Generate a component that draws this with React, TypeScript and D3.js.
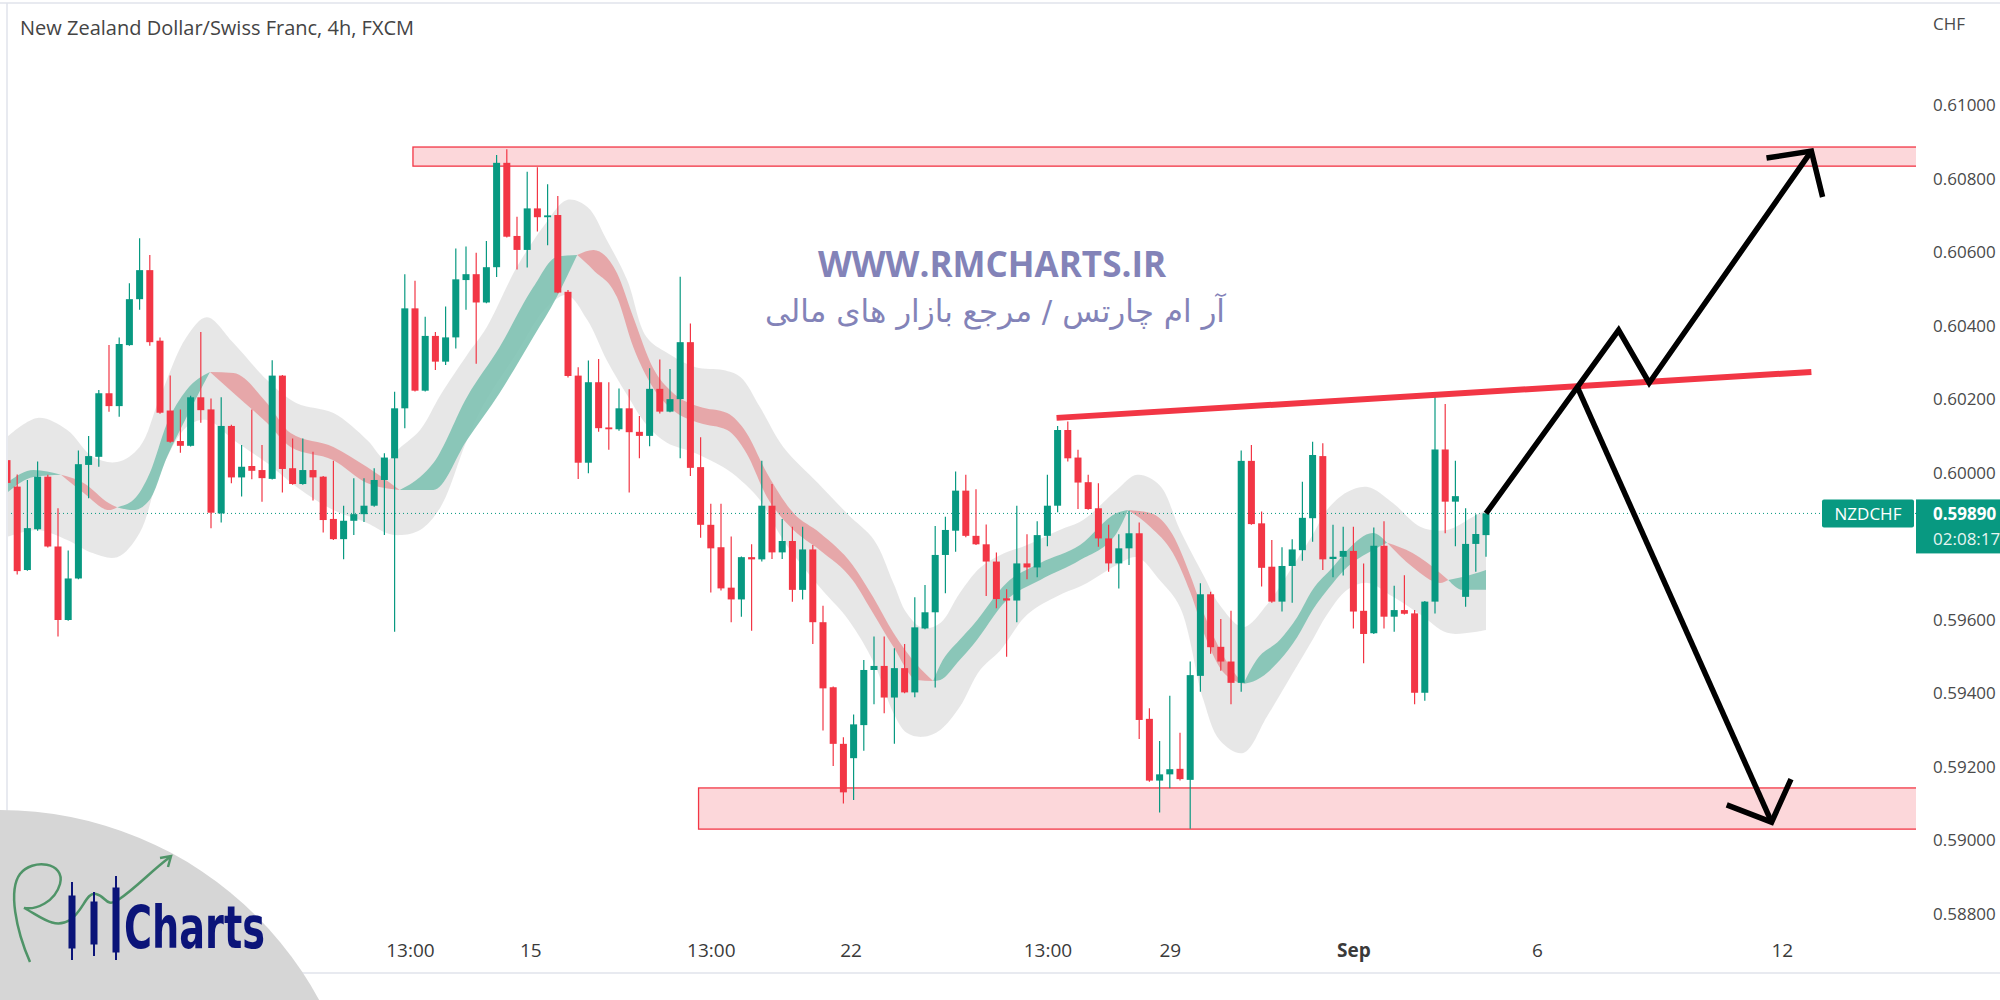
import * as d3 from "d3";
import { useEffect, useRef } from "react";

// 4h candles, NZD/CHF (FXCM)
const candleOpen = [
  0.60035, 0.59963, 0.59736, 0.59847, 0.59990, 0.59800, 0.59600, 0.59713, 0.60022, 0.60044,
  0.60217, 0.60182, 0.60348, 0.60473, 0.60552, 0.60360, 0.60170, 0.60087, 0.60074, 0.60206,
  0.60173, 0.59890, 0.60128, 0.59988, 0.60019, 0.60008, 0.59984, 0.60265, 0.60013, 0.59970,
  0.60008, 0.59990, 0.59875, 0.59820, 0.59870, 0.59888, 0.59911, 0.59981, 0.60040, 0.60176,
  0.60448, 0.60224, 0.60373, 0.60303, 0.60369, 0.60525, 0.60541, 0.60464, 0.60560, 0.60844,
  0.60645, 0.60607, 0.60720, 0.60696, 0.60702, 0.60493, 0.60265, 0.60028, 0.60247, 0.60124,
  0.60119, 0.60176, 0.60112, 0.60101, 0.60229, 0.60167, 0.60201, 0.60356, 0.60016, 0.59859,
  0.59798, 0.59688, 0.59656, 0.59771, 0.59765, 0.59911, 0.59784, 0.59815, 0.59682, 0.59792,
  0.59594, 0.59417, 0.59263, 0.59224, 0.59314, 0.59464, 0.59475, 0.59389, 0.59469, 0.59403,
  0.59577, 0.59621, 0.59777, 0.59843, 0.59952, 0.59829, 0.59806, 0.59759, 0.59659, 0.59653,
  0.59754, 0.59743, 0.59829, 0.59911, 0.60117, 0.60042, 0.59975, 0.59904, 0.59822, 0.59754,
  0.59795, 0.59836, 0.59331, 0.59163, 0.59180, 0.59195, 0.59165, 0.59448, 0.59670, 0.59527,
  0.59487, 0.59429, 0.60033, 0.59863, 0.59745, 0.59650, 0.59747, 0.59790, 0.59877, 0.60046,
  0.59766, 0.59772, 0.59788, 0.59625, 0.59564, 0.59802, 0.59609, 0.59627, 0.59618, 0.59402,
  0.59650, 0.60064, 0.59922, 0.59663, 0.59807, 0.59831
];
const candleHigh = [
  0.60068, 0.59996, 0.59981, 0.60031, 0.59995, 0.59904, 0.59789, 0.60061, 0.60101, 0.60226,
  0.60348, 0.60369, 0.60516, 0.60639, 0.60593, 0.60369, 0.60265, 0.60173, 0.60210, 0.60384,
  0.60203, 0.60206, 0.60131, 0.60076, 0.60173, 0.60076, 0.60307, 0.60267, 0.60094, 0.60094,
  0.60058, 0.59992, 0.60033, 0.59911, 0.59986, 0.59986, 0.60013, 0.60054, 0.60221, 0.60541,
  0.60523, 0.60425, 0.60384, 0.60453, 0.60611, 0.60616, 0.60599, 0.60631, 0.60865, 0.60881,
  0.60697, 0.60820, 0.60832, 0.60786, 0.60754, 0.60498, 0.60288, 0.60306, 0.60310, 0.60247,
  0.60230, 0.60228, 0.60155, 0.60285, 0.60309, 0.60283, 0.60534, 0.60407, 0.60097, 0.59916,
  0.59916, 0.59827, 0.59773, 0.59806, 0.60033, 0.59970, 0.59875, 0.59854, 0.59854, 0.59804,
  0.59639, 0.59419, 0.59281, 0.59343, 0.59491, 0.59555, 0.59555, 0.59523, 0.59535, 0.59662,
  0.59695, 0.59856, 0.59881, 0.60004, 0.59995, 0.59956, 0.59860, 0.59784, 0.59684, 0.59911,
  0.59833, 0.59869, 0.59995, 0.60128, 0.60140, 0.60063, 0.59995, 0.59972, 0.59859, 0.59833,
  0.59897, 0.59865, 0.59360, 0.59271, 0.59394, 0.59293, 0.59487, 0.59700, 0.59677, 0.59603,
  0.59625, 0.60061, 0.60076, 0.59895, 0.59818, 0.59798, 0.59820, 0.59976, 0.60085, 0.60081,
  0.59859, 0.59854, 0.59854, 0.59754, 0.59852, 0.59869, 0.59693, 0.59722, 0.59627, 0.59652,
  0.60215, 0.60188, 0.60033, 0.59904, 0.59888, 0.59890
];
const candleLow = [
  0.59962, 0.59724, 0.59734, 0.59843, 0.59797, 0.59555, 0.59598, 0.59711, 0.59931, 0.60017,
  0.60167, 0.60153, 0.60346, 0.60444, 0.60346, 0.60161, 0.60082, 0.60055, 0.60072, 0.60137,
  0.59850, 0.59865, 0.59972, 0.59936, 0.59983, 0.59922, 0.59982, 0.59947, 0.59968, 0.59968,
  0.59925, 0.59838, 0.59818, 0.59765, 0.59831, 0.59867, 0.59908, 0.59831, 0.59568, 0.60122,
  0.60222, 0.60222, 0.60280, 0.60294, 0.60339, 0.60444, 0.60297, 0.60462, 0.60533, 0.60641,
  0.60554, 0.60559, 0.60657, 0.60620, 0.60489, 0.60260, 0.59984, 0.59999, 0.60112, 0.60063,
  0.60115, 0.59947, 0.60040, 0.60073, 0.60162, 0.60165, 0.60040, 0.59992, 0.59824, 0.59675,
  0.59680, 0.59594, 0.59609, 0.59571, 0.59759, 0.59766, 0.59766, 0.59650, 0.59656, 0.59535,
  0.59299, 0.59203, 0.59101, 0.59110, 0.59244, 0.59371, 0.59346, 0.59263, 0.59401, 0.59390,
  0.59575, 0.59416, 0.59673, 0.59786, 0.59825, 0.59804, 0.59665, 0.59632, 0.59500, 0.59594,
  0.59711, 0.59716, 0.59801, 0.59893, 0.60031, 0.59902, 0.59900, 0.59799, 0.59731, 0.59686,
  0.59750, 0.59276, 0.59160, 0.59076, 0.59142, 0.59163, 0.59032, 0.59405, 0.59508, 0.59462,
  0.59371, 0.59405, 0.59859, 0.59691, 0.59647, 0.59623, 0.59647, 0.59761, 0.59813, 0.59736,
  0.59716, 0.59721, 0.59577, 0.59482, 0.59562, 0.59577, 0.59568, 0.59615, 0.59371, 0.59380,
  0.59618, 0.59836, 0.59801, 0.59636, 0.59731, 0.59772
];
const candleClose = [
  0.59973, 0.59733, 0.59850, 0.59990, 0.59800, 0.59600, 0.59713, 0.60024, 0.60046, 0.60217,
  0.60182, 0.60351, 0.60473, 0.60552, 0.60356, 0.60164, 0.60085, 0.60074, 0.60206, 0.60171,
  0.59892, 0.60128, 0.59988, 0.60017, 0.60006, 0.59986, 0.60265, 0.60011, 0.59970, 0.60008,
  0.59988, 0.59872, 0.59820, 0.59870, 0.59888, 0.59911, 0.59981, 0.60042, 0.60176, 0.60448,
  0.60224, 0.60373, 0.60303, 0.60369, 0.60527, 0.60541, 0.60464, 0.60560, 0.60844, 0.60643,
  0.60607, 0.60720, 0.60696, 0.60701, 0.60491, 0.60264, 0.60028, 0.60247, 0.60122, 0.60119,
  0.60176, 0.60111, 0.60101, 0.60229, 0.60167, 0.60201, 0.60356, 0.60014, 0.59859, 0.59795,
  0.59686, 0.59656, 0.59771, 0.59765, 0.59911, 0.59784, 0.59815, 0.59682, 0.59792, 0.59594,
  0.59414, 0.59263, 0.59131, 0.59316, 0.59464, 0.59475, 0.59389, 0.59469, 0.59403, 0.59580,
  0.59621, 0.59777, 0.59845, 0.59952, 0.59829, 0.59806, 0.59759, 0.59657, 0.59653, 0.59754,
  0.59743, 0.59831, 0.59911, 0.60117, 0.60040, 0.59974, 0.59902, 0.59822, 0.59754, 0.59795,
  0.59836, 0.59328, 0.59163, 0.59180, 0.59194, 0.59167, 0.59450, 0.59670, 0.59526, 0.59487,
  0.59429, 0.60033, 0.59861, 0.59742, 0.59650, 0.59747, 0.59792, 0.59878, 0.60049, 0.59765,
  0.59772, 0.59788, 0.59623, 0.59562, 0.59802, 0.59609, 0.59627, 0.59617, 0.59402, 0.59650,
  0.60064, 0.59922, 0.59937, 0.59807, 0.59834, 0.59890
];

// grey envelope around the moving averages (candle index, upper, lower)
const bandIdx = [
  0, 3, 5.9, 8.4, 10.8, 13, 15, 17.6, 19.6, 22.2, 25.5, 28.4, 32, 35.3, 37.2, 38.5, 40.5, 42.5,
  45.1, 47, 50, 52.7, 54.9, 56.9, 58.8, 60.8, 62.7, 64.7, 67.5, 70.2, 71.9, 73.8, 76.1, 79.5,
  82.5, 85, 86.9, 88.2, 89.8, 91.5, 93.4, 95.4, 97.4, 100, 103.2, 105.5, 108.8, 110.8, 113, 115,
  117.3, 118.9, 121.2, 123.5, 125.5, 128, 129.4, 131.4, 133.4, 135.9, 138.6, 141.2, 143.7, 145
];
const bandUpper = [
  0.60098, 0.60150, 0.60117, 0.60044, 0.60030, 0.60071, 0.60207, 0.60370, 0.60424, 0.60354,
  0.60253, 0.60190, 0.60163, 0.60090, 0.60035, 0.60068, 0.60117, 0.60212, 0.60321, 0.60395,
  0.60561, 0.60675, 0.60743, 0.60724, 0.60634, 0.60525, 0.60370, 0.60327, 0.60288, 0.60280,
  0.60261, 0.60180, 0.60071, 0.59973, 0.59886, 0.59818, 0.59701, 0.59619, 0.59578, 0.59592,
  0.59673, 0.59742, 0.59777, 0.59804, 0.59845, 0.59872, 0.59954, 0.59995, 0.59967, 0.59845,
  0.59722, 0.59641, 0.59581, 0.59641, 0.59722, 0.59831, 0.59899, 0.59948, 0.59962, 0.59918,
  0.59853, 0.59845, 0.59880, 0.59899
];
const bandLower = [
  0.59826, 0.59845, 0.59818, 0.59782, 0.59771, 0.59837, 0.60000, 0.60125, 0.60144, 0.60090,
  0.60027, 0.59962, 0.59899, 0.59864, 0.59837, 0.59831, 0.59845, 0.59907, 0.60090, 0.60199,
  0.60327, 0.60444, 0.60484, 0.60416, 0.60307, 0.60212, 0.60131, 0.60082, 0.60054, 0.60016,
  0.59981, 0.59927, 0.59818, 0.59695, 0.59600, 0.59483, 0.59347, 0.59293, 0.59282, 0.59301,
  0.59363, 0.59464, 0.59518, 0.59614, 0.59668, 0.59695, 0.59750, 0.59771, 0.59709, 0.59635,
  0.59382, 0.59273, 0.59238, 0.59336, 0.59429, 0.59546, 0.59614, 0.59682, 0.59701, 0.59663,
  0.59614, 0.59565, 0.59567, 0.59573
];

// fast / slow moving averages that form the coloured ribbon
const ribbonIdx = [
  0, 2.6, 5.3, 7.5, 10, 10.8, 12.4, 14, 15.7, 17.6, 19.9, 22.2, 25.5, 27.8, 32, 35.3, 38.5, 40.5,
  41.8, 45.1, 48.3, 51.6, 53.9, 55.9, 57.5, 59.8, 61.4, 63.3, 65.3, 67.9, 70.6, 72.5, 74.5, 77.1,
  79.7, 82.9, 84.9, 86.9, 89.2, 90.8, 91.5, 93.4, 94.7, 98, 101.3, 105.2, 108.8, 109.9, 112.1,
  114.3, 116, 117.6, 119.2, 121.2, 122.5, 124.8, 126.5, 128, 130, 131.4, 133.9, 135.3, 137.8,
  140.5, 141.3, 142.7, 145
];
const maFast = [
  0.59973, 0.60008, 0.59995, 0.59946, 0.59899, 0.59907, 0.59927, 0.60000, 0.60136, 0.60226,
  0.60275, 0.60218, 0.60136, 0.60071, 0.60035, 0.59973, 0.59954, 0.59989, 0.60027, 0.60207,
  0.60343, 0.60506, 0.60588, 0.60593, 0.60552, 0.60479, 0.60343, 0.60234, 0.60171, 0.60136,
  0.60117, 0.60054, 0.59935, 0.59845, 0.59790, 0.59709, 0.59619, 0.59527, 0.59437, 0.59434,
  0.59478, 0.59546, 0.59586, 0.59701, 0.59755, 0.59804, 0.59891, 0.59899, 0.59853, 0.59782,
  0.59676, 0.59546, 0.59459, 0.59426, 0.59491, 0.59546, 0.59608, 0.59682, 0.59744, 0.59790,
  0.59837, 0.59810, 0.59744, 0.59701, 0.59709, 0.59717, 0.59736
];
const maSlow = [
  0.59946, 0.59989, 0.59995, 0.59973, 0.59918, 0.59907, 0.59899, 0.59927, 0.60044, 0.60152,
  0.60275, 0.60272, 0.60190, 0.60109, 0.60071, 0.60016, 0.59954, 0.59954, 0.59954, 0.60090,
  0.60218, 0.60370, 0.60479, 0.60593, 0.60607, 0.60544, 0.60424, 0.60288, 0.60218, 0.60180,
  0.60163, 0.60109, 0.60000, 0.59891, 0.59837, 0.59750, 0.59663, 0.59565, 0.59478, 0.59434,
  0.59437, 0.59491, 0.59532, 0.59654, 0.59709, 0.59763, 0.59837, 0.59899, 0.59891, 0.59831,
  0.59722, 0.59600, 0.59505, 0.59426, 0.59437, 0.59491, 0.59554, 0.59627, 0.59701, 0.59744,
  0.59790, 0.59810, 0.59782, 0.59728, 0.59709, 0.59682, 0.59682
];

const priceTicks = [0.588, 0.59, 0.592, 0.594, 0.596, 0.598, 0.6, 0.602, 0.604, 0.606, 0.608, 0.61];
const timeTickIdx = [39.5, 51.3, 69, 82.7, 102, 114, 132, 150, 174];
const timeTickLabels = ["13:00", "15", "13:00", "22", "13:00", "29", "Sep", "6", "12"];

const lastPrice = 0.5989;
const countdown = "02:08:17";
const symbol = "NZDCHF";

// drawings: zones [idxStart, idxEnd, top, bottom], lines in (index, price)
const supplyZone = [39.8, 190, 0.60887, 0.60835];
const demandZone = [67.8, 190, 0.59143, 0.59031];
const trendIdx = [102.9, 176.9];
const trendPrice = [0.6015, 0.60275];
const bullIdx = [145, 158, 161, 176.9];
const bullPrice = [0.5989, 0.60389, 0.60245, 0.60876];
const bullHeadIdx = [172.5, 176.9, 178.0];
const bullHeadPrice = [0.60857, 0.60876, 0.60751];
const bearIdx = [154.0, 173.0];
const bearPrice = [0.60231, 0.5905];
const bearHeadIdx = [168.6, 173.0, 174.9];
const bearHeadPrice = [0.59097, 0.5905, 0.59167];

const GREEN = "#089981";
const RED = "#f23645";

export default function App() {
  const yAxisRef: any = useRef();
  const xAxisRef: any = useRef();

  const width = 2000;
  const height = 1000;
  const plotLeft = 7;
  const plotRight = 1916;
  const plotTop = 3;
  const plotBottom = 973;

  const x: any = d3.scaleLinear([0, 145], [7, 1486]);
  const y: any = d3.scaleLinear([0.588, 0.61], [914, 105.5]);
  const bodyW = 7;

  const band = d3.area<number>()
    .x((d, i) => x(bandIdx[i]))
    .y0((d, i) => y(bandUpper[i]))
    .y1((d, i) => y(bandLower[i]))
    .curve(d3.curveCatmullRom);

  // split ribbon where the averages cross
  const pts = ribbonIdx.map((d, i) => ({ i: d, f: maFast[i], s: maSlow[i] }));
  const segments: any[] = [];
  let cur: any[] = [pts[0]];
  for (let k = 1; k < pts.length; k++) {
    cur.push(pts[k]);
    if (pts[k].f === pts[k].s) {
      segments.push(cur);
      cur = [pts[k]];
    }
  }
  if (cur.length > 1) segments.push(cur);

  const ribbon = d3.area<any>()
    .x(d => x(d.i))
    .y0(d => y(d.f))
    .y1(d => y(d.s))
    .curve(d3.curveMonotoneX);

  const line = d3.line<number>();
  const pathOf = (idx: number[], pr: number[]) => line(idx.map((d, i) => [x(d), y(pr[i])]));

  useEffect(() => {
    const gy = d3.select(yAxisRef.current);
    gy.call(d3.axisRight(y).tickValues(priceTicks).tickFormat(d3.format(".5f")).tickSize(0).tickPadding(0))
      .call(g => g.select(".domain").remove())
      .attr("font-size", 17)
      .attr("font-family", "'Open Sans', 'DejaVu Sans', sans-serif")
      .call(g => g.selectAll("text").attr("fill", "#4a4a4a"));

    const gx = d3.select(xAxisRef.current);
    gx.call(d3.axisBottom(x).tickValues(timeTickIdx).tickFormat((d: any, i: number) => timeTickLabels[i]).tickSize(0).tickPadding(0))
      .call(g => g.select(".domain").remove())
      .attr("font-size", 19)
      .attr("font-family", "'Open Sans', 'DejaVu Sans', sans-serif")
      .call(g => g.selectAll("text").attr("fill", "#3a3a3a")
        .attr("font-weight", (d: any, i: number) => timeTickLabels[i] === "Sep" ? "bold" : "normal"));
  }, [x, y]);

  const yLast = y(lastPrice);

  return (
    <svg width={width} height={height}
      style={{ position: "fixed", left: 0, top: 0, background: "#fff" }}
      fontFamily="'Open Sans', 'DejaVu Sans', sans-serif">
      <defs>
        <clipPath id="plot">
          <rect x={plotLeft + 1} y={plotTop + 1} width={plotRight - plotLeft - 1} height={plotBottom - plotTop - 1} />
        </clipPath>
      </defs>
      <rect x={0} y={0} width={width} height={height} fill="#fff" />

      {/* frame */}
      <line x1={0} x2={width} y1={plotTop} y2={plotTop} stroke="#e0e3eb" strokeWidth="1.5" />
      <line x1={plotLeft} x2={plotLeft} y1={plotTop} y2={plotBottom} stroke="#e0e3eb" strokeWidth="1.5" />
      <line x1={0} x2={width} y1={plotBottom} y2={plotBottom} stroke="#e0e3eb" strokeWidth="1.5" />

      <g clipPath="url(#plot)">
        <path d={band(bandIdx) || ""} fill="#e3e3e3" opacity="0.85" />
        {segments.map((seg, k) => {
          const p = seg.find((d: any) => d.f !== d.s) || seg[0];
          return (
            <path key={k} d={ribbon(seg) || ""}
              fill={p.f >= p.s ? "#7fc2b2" : "#e6a0a2"} opacity="0.9" />
          );
        })}

        <line x1={plotLeft} x2={plotRight} y1={yLast} y2={yLast}
          stroke={GREEN} strokeWidth="1" strokeDasharray="1 3" />

        {[supplyZone, demandZone].map((z, k) => (
          <rect key={k} x={x(z[0])} y={y(z[2])} width={x(z[1]) - x(z[0])} height={y(z[3]) - y(z[2])}
            fill="rgba(242,54,69,0.2)" stroke={RED} strokeWidth="1.3" />
        ))}

        {candleOpen.map((o, i) => {
          const c = candleClose[i];
          const col = c >= o ? GREEN : RED;
          const top = y(Math.max(o, c));
          const h = Math.max(1, y(Math.min(o, c)) - top);
          return (
            <g key={i} fill={col} stroke={col}>
              <line x1={x(i)} x2={x(i)} y1={y(candleHigh[i])} y2={y(candleLow[i])} strokeWidth="1.2" />
              <rect x={x(i) - bodyW / 2} y={top} width={bodyW} height={h} stroke="none" />
            </g>
          );
        })}

        <path d={pathOf(trendIdx, trendPrice) || ""} stroke={RED} strokeWidth="6" fill="none" />

        <g stroke="#000" strokeWidth="5.5" fill="none" strokeLinejoin="miter">
          <path d={pathOf(bullIdx, bullPrice) || ""} />
          <path d={pathOf(bullHeadIdx, bullHeadPrice) || ""} />
          <path d={pathOf(bearIdx, bearPrice) || ""} />
          <path d={pathOf(bearHeadIdx, bearHeadPrice) || ""} />
        </g>
      </g>

      {/* watermark */}
      <text x={992} y={277} textAnchor="middle" fontSize="35" fontWeight="bold" fill="#8383b8"
        fontFamily="'Open Sans', 'DejaVu Sans', sans-serif">WWW.RMCHARTS.IR</text>
      <text x={995} y={322} textAnchor="middle" fontSize="31" fill="#8383b8" direction="rtl"
        fontFamily="'DejaVu Sans', sans-serif">آر ام چارتس / مرجع بازار های مالی</text>

      {/* title */}
      <text x={20} y={35} fontSize="20" fill="#444">New Zealand Dollar/Swiss Franc, 4h, FXCM</text>

      {/* axes */}
      <text x={1933} y={30} fontSize="17" fill="#4a4a4a">CHF</text>
      <g ref={yAxisRef} transform={`translate(1933, 0)`} />
      <g ref={xAxisRef} transform={`translate(0, 943)`} />

      {/* last price labels */}
      <rect x={1822} y={yLast - 14} width={92} height={28} fill={GREEN} rx="2" />
      <text x={1868} y={yLast + 7} textAnchor="middle" fontSize="17" fill="#fff">{symbol}</text>
      <rect x={plotRight} y={yLast - 14} width={width - plotRight} height={54} fill={GREEN} />
      <text x={1933} y={yLast + 7} fontSize="17" fontWeight="bold" fill="#fff">{d3.format(".5f")(lastPrice)}</text>
      <text x={1933} y={yLast + 32} fontSize="17" fill="#e6f5f2">{countdown}</text>

      {/* logo */}
      <g>
        <circle cx={0} cy={1173} r={363} fill="#d6d6d6" />
        <path d="M 30 962 C 16 930, 8 890, 20 874 C 32 858, 66 862, 60 884 C 55 902, 36 910, 24 908 C 40 916, 54 930, 70 920 C 84 910, 86 892, 96 894 C 106 896, 106 908, 118 900 C 136 888, 150 872, 170 857"
          fill="none" stroke="#4f9468" strokeWidth="2.5" />
        <path d="M 160 858 L 171 856 L 168 867" fill="none" stroke="#4f9468" strokeWidth="2.5" />
        <g stroke="#0b1479" fill="#0b1479">
          <line x1={72} x2={72} y1={882} y2={960} strokeWidth="2" />
          <rect x={69} y={896} width={6} height={52} />
          <line x1={94} x2={94} y1={892} y2={956} strokeWidth="2" />
          <rect x={91} y={902} width={6} height={42} />
          <line x1={116} x2={116} y1={876} y2={960} strokeWidth="2" />
          <rect x={113} y={888} width={6} height={64} />
        </g>
        <text x={124} y={948} fontSize="58" fontWeight="bold" fill="#0b1479" textLength={141}
          lengthAdjust="spacingAndGlyphs"
          fontFamily="'Liberation Sans Narrow', 'DejaVu Sans Condensed', 'DejaVu Sans', sans-serif">Charts</text>
      </g>
    </svg>
  );
}
